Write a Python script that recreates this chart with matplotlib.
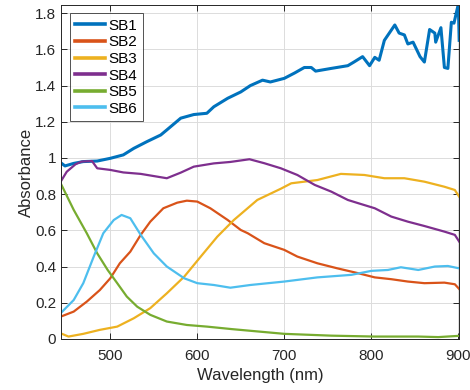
import matplotlib
matplotlib.use("Agg")
import matplotlib.pyplot as plt

# ---------------- data ----------------
sb1_wl = [443, 448, 458, 469, 485, 500, 515, 527, 542, 558, 565, 581, 596, 611, 619,
          635, 650, 661, 675, 684, 700, 712, 723, 731, 736, 754, 773, 780, 790, 798,
          804, 809, 815, 827, 832, 838, 842, 848, 856, 861, 867, 873, 874, 880, 884,
          888, 892, 895, 900, 901]
sb1_ab = [0.974, 0.956, 0.970, 0.980, 0.983, 0.998, 1.017, 1.053, 1.090, 1.127, 1.155,
          1.220, 1.240, 1.247, 1.283, 1.330, 1.365, 1.400, 1.430, 1.420, 1.440, 1.470,
          1.500, 1.500, 1.480, 1.495, 1.510, 1.530, 1.560, 1.510, 1.556, 1.540, 1.650,
          1.735, 1.690, 1.680, 1.630, 1.640, 1.560, 1.530, 1.710, 1.690, 1.640, 1.720,
          1.500, 1.495, 1.750, 1.745, 1.850, 1.650]

sb2_wl = [443, 458, 473, 488, 500, 511, 523, 535, 546, 561, 577, 588, 600, 615, 635,
          650, 658, 677, 700, 715, 738, 761, 785, 804, 823, 842, 861, 884, 896, 901]
sb2_ab = [0.123, 0.151, 0.206, 0.270, 0.335, 0.418, 0.482, 0.575, 0.648, 0.722, 0.753,
          0.764, 0.759, 0.722, 0.657, 0.602, 0.584, 0.529, 0.492, 0.455, 0.418, 0.390,
          0.363, 0.340, 0.330, 0.317, 0.308, 0.311, 0.302, 0.276]

sb3_wl = [443, 452, 469, 488, 508, 527, 546, 565, 585, 604, 623, 642, 669, 696, 708,
          738, 765, 792, 815, 838, 861, 884, 896, 901]
sb3_ab = [0.031, 0.013, 0.028, 0.050, 0.068, 0.114, 0.170, 0.252, 0.344, 0.455, 0.565,
          0.657, 0.768, 0.830, 0.860, 0.878, 0.912, 0.906, 0.888, 0.888, 0.869, 0.841,
          0.823, 0.786]

sb4_wl = [443, 450, 460, 467, 479, 485, 500, 515, 535, 550, 565, 581, 596, 619, 638,
          660, 677, 696, 715, 735, 754, 773, 785, 804, 823, 842, 861, 884, 896, 901]
sb4_ab = [0.869, 0.924, 0.965, 0.980, 0.983, 0.943, 0.934, 0.920, 0.912, 0.900, 0.888,
          0.919, 0.952, 0.970, 0.978, 0.993, 0.971, 0.943, 0.906, 0.851, 0.814, 0.768,
          0.750, 0.722, 0.676, 0.648, 0.624, 0.593, 0.575, 0.538]

sb5_wl = [443, 458, 473, 485, 497, 508, 519, 531, 546, 565, 588, 611, 640, 700, 754,
          804, 854, 877, 901]
sb5_ab = [0.860, 0.713, 0.584, 0.473, 0.381, 0.308, 0.234, 0.178, 0.133, 0.096, 0.077,
          0.068, 0.054, 0.028, 0.018, 0.013, 0.013, 0.010, 0.017]

sb6_wl = [443, 458, 469, 481, 492, 504, 513, 523, 535, 550, 565, 585, 600, 619, 638,
          661, 700, 738, 777, 800, 819, 834, 854, 873, 888, 901]
sb6_ab = [0.142, 0.215, 0.308, 0.455, 0.584, 0.657, 0.685, 0.667, 0.575, 0.473, 0.400,
          0.335, 0.308, 0.298, 0.283, 0.298, 0.317, 0.340, 0.354, 0.376, 0.381, 0.396,
          0.381, 0.400, 0.403, 0.390]

labels = ["SB1", "SB2", "SB3", "SB4", "SB5", "SB6"]
x_ticks = [500, 600, 700, 800, 900]
y_ticks = [0, 0.2, 0.4, 0.6, 0.8, 1.0, 1.2, 1.4, 1.6, 1.8]
y_tick_labels = ["0", "0.2", "0.4", "0.6", "0.8", "1", "1.2", "1.4", "1.6", "1.8"]

# ---------------- styling ----------------
plt.rcParams['font.family'] = ['Liberation Sans', 'DejaVu Sans']
colors = ["#0072BD", "#D95319", "#EDB120", "#7E2F8E", "#77AC30", "#4DBEEE"]
widths = [2.2, 1.6, 1.6, 1.6, 1.6, 1.6]

fig = plt.figure(figsize=(4.7, 3.9), dpi=100)
ax = fig.add_axes([0.13, 0.131, 0.847, 0.856])

series = [(sb1_wl, sb1_ab), (sb2_wl, sb2_ab), (sb3_wl, sb3_ab),
          (sb4_wl, sb4_ab), (sb5_wl, sb5_ab), (sb6_wl, sb6_ab)]
for (wl, ab), lab, c, lw in zip(series, labels, colors, widths):
    ax.plot(wl, ab, color=c, lw=lw, label=lab, solid_joinstyle='round')

ax.set_xlim(443.5, 901)
ax.set_ylim(0, 1.845)
ax.set_xticks(x_ticks)
ax.set_yticks(y_ticks)
ax.set_yticklabels(y_tick_labels)
ax.grid(True, color="#dcdcdc", lw=0.7)
ax.set_axisbelow(True)
ax.tick_params(direction='in', top=True, right=True, labelsize=11,
               colors="#262626", length=4, width=0.7)
ax.tick_params(axis='x', pad=7)
for s in ax.spines.values():
    s.set_color("#262626")
    s.set_linewidth(0.7)
ax.set_xlabel("Wavelength (nm)", fontsize=12, color="#262626", labelpad=4)
ax.set_ylabel("Absorbance", fontsize=12, color="#262626", labelpad=1)

leg = ax.legend(loc="upper left", fontsize=11, frameon=True, fancybox=False,
                edgecolor="#262626", handlelength=2.0, handletextpad=0.2,
                labelspacing=0.17, borderpad=0.35, borderaxespad=0.55)
leg.get_frame().set_linewidth(0.7)
for line in leg.get_lines():
    line.set_linewidth(2.6)

fig.savefig("out.png", dpi=100)
